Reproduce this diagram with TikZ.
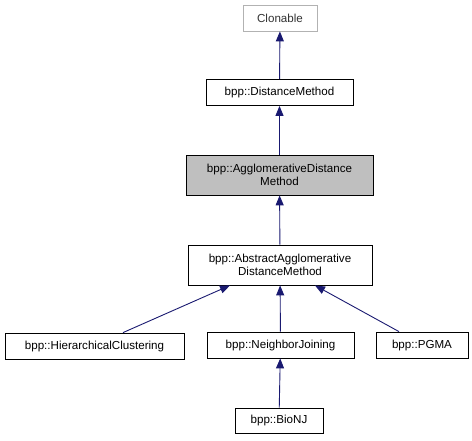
\documentclass[tikz,border=0pt]{standalone}
\usepackage{fontspec}
\setmainfont{Liberation Sans}
\usetikzlibrary{arrows.meta}
\begin{document}
\begin{tikzpicture}[x=1pt,y=-1pt,
  cls/.style={draw=black,fill=white,line width=0.8pt,inner sep=0pt,align=center,font=\fontsize{11.6}{13.5}\selectfont},
  ext/.style={cls,draw=gray!60,text=black!80},
  cur/.style={cls,fill=gray!50},
  inh/.style={draw=midnightblue,line width=0.9pt,-{Triangle[length=10pt,width=8pt]},color=midnightblue}]
\definecolor{midnightblue}{HTML}{191970}
\useasboundingbox (0,0) rectangle (472,440);
\node[ext,minimum width=74pt,minimum height=26pt] (clon) at (280,18) {Clonable};
\node[cls,minimum width=147pt,minimum height=26pt] (dm) at (279.5,92.5) {bpp::DistanceMethod};
\node[cur,minimum width=187pt,minimum height=40pt] (adm) at (279.5,175) {bpp::AgglomerativeDistance\\Method};
\node[cls,minimum width=184pt,minimum height=40pt] (aadm) at (280,265) {bpp::AbstractAgglomerative\\DistanceMethod};
\node[cls,minimum width=179pt,minimum height=26pt] (hc) at (94.5,346) {bpp::HierarchicalClustering};
\node[cls,minimum width=147pt,minimum height=26pt] (nj) at (280.5,345) {bpp::NeighborJoining};
\node[cls,minimum width=92pt,minimum height=26pt] (pgma) at (422,345) {bpp::PGMA};
\node[cls,minimum width=88pt,minimum height=25pt] (bionj) at (279,420.5) {bpp::BioNJ};
\draw[inh] (dm) -- (clon);
\draw[inh] (adm) -- (dm);
\draw[inh] (aadm) -- (adm);
\draw[inh] ([xshift=28.5pt]hc.north) -- ([xshift=-50pt]aadm.south);
\draw[inh] (nj) -- (aadm);
\draw[inh] ([xshift=-23pt]pgma.north) -- ([xshift=35pt]aadm.south);
\draw[inh] (bionj) -- (nj);
\end{tikzpicture}
\end{document}
